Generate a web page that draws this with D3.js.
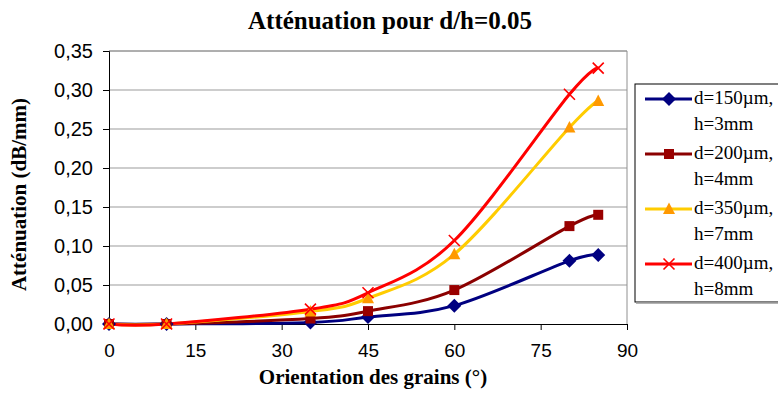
<!DOCTYPE html>
<html>
<head>
<meta charset="utf-8">
<script src="https://cdn.jsdelivr.net/npm/d3@7"></script>
<style>
  html, body { margin: 0; padding: 0; background: #fff; }
  svg { display: block; }
</style>
</head>
<body>
<svg id="chart" width="778" height="394"></svg>
<script>
// Grain orientation (degrees) at which attenuation was measured
const angles = [0, 10, 35, 45, 60, 80, 85];

// Attenuation (dB/mm) per grain size / height pair
const att150 = [0, 0, 0.002, 0.009, 0.0235, 0.081, 0.0885];
const att200 = [0, 0, 0.007, 0.0165, 0.0435, 0.1255, 0.140];
const att350 = [0, 0, 0.016, 0.033, 0.0895, 0.252, 0.286];
const att400 = [0, 0, 0.019, 0.040, 0.107, 0.2945, 0.328];

const seriesNames = [["d=150µm,", "h=3mm"], ["d=200µm,", "h=4mm"], ["d=350µm,", "h=7mm"], ["d=400µm,", "h=8mm"]];
const xTicks = [0, 15, 30, 45, 60, 75, 90];
const yTicks = [0, 0.05, 0.10, 0.15, 0.20, 0.25, 0.30, 0.35];

const series = [
  { name: seriesNames[0], values: att150, line: "#000080", fill: "#000080", marker: "diamond" },
  { name: seriesNames[1], values: att200, line: "#8B0000", fill: "#990000", marker: "square" },
  { name: seriesNames[2], values: att350, line: "#FFCC00", fill: "#FF9900", marker: "triangle" },
  { name: seriesNames[3], values: att400, line: "#FF0000", fill: "#FF0000", marker: "cross" }
];

const svg = d3.select("#chart");
const plotLeft = 109, plotRight = 627, plotTop = 51, plotBottom = 324;

const x = d3.scaleLinear().domain([0, 90]).range([plotLeft, plotRight]);
const y = d3.scaleLinear().domain([0, 0.35]).range([plotBottom, plotTop]);

const sans = "'Liberation Sans', Arial, sans-serif";
const serif = "'Liberation Serif', 'Times New Roman', serif";

// Title
svg.append("text")
  .attr("x", 390).attr("y", 29)
  .attr("text-anchor", "middle")
  .style("font-family", serif).style("font-weight", "bold").style("font-size", "25px")
  .text("Atténuation pour d/h=0.05");

// Horizontal grid lines
svg.append("g").selectAll("line")
  .data(yTicks.filter(d => d > 0))
  .join("line")
  .attr("x1", plotLeft).attr("x2", plotRight)
  .attr("y1", d => y(d)).attr("y2", d => y(d))
  .attr("stroke", "#bdbdbd").attr("stroke-width", 1.5);

// Plot frame (top and right)
svg.append("path")
  .attr("d", `M${plotLeft},${plotTop}H${plotRight}V${plotBottom}`)
  .attr("fill", "none").attr("stroke", "#909090").attr("stroke-width", 1);

// Y axis
const yAxis = d3.axisLeft(y).tickValues(yTicks).tickSize(6).tickPadding(10)
  .tickFormat(d => d3.format(".2f")(d).replace(".", ","));
const gy = svg.append("g").attr("transform", `translate(${plotLeft},0)`).call(yAxis);
gy.select(".domain").attr("stroke", "#000");
gy.selectAll(".tick line").attr("stroke", "#000");
gy.selectAll("text").style("font-family", sans).style("font-size", "20px").attr("fill", "#000");

// X axis
const xAxis = d3.axisBottom(x).tickValues(xTicks).tickSize(6).tickPadding(14).tickFormat(d3.format("d"));
const gx = svg.append("g").attr("transform", `translate(0,${plotBottom})`).call(xAxis);
gx.select(".domain").attr("stroke", "#000");
gx.selectAll(".tick line").attr("stroke", "#000");
gx.selectAll("text").style("font-family", sans).style("font-size", "19px").attr("fill", "#000");

// Axis titles
svg.append("text")
  .attr("x", (plotLeft + plotRight) / 2 + 5).attr("y", 384)
  .attr("text-anchor", "middle")
  .style("font-family", serif).style("font-weight", "bold").style("font-size", "21px")
  .text("Orientation des grains (°)");

svg.append("text")
  .attr("transform", `translate(26,${(plotTop + plotBottom) / 2 + 7}) rotate(-90)`)
  .attr("text-anchor", "middle")
  .style("font-family", serif).style("font-weight", "bold").style("font-size", "21px")
  .text("Atténuation (dB/mm)");

// Marker drawing
function drawMarker(g, type, fill, stroke) {
  if (type === "diamond") {
    g.append("path").attr("d", "M0,-7L7,0L0,7L-7,0Z").attr("fill", fill);
  } else if (type === "square") {
    g.append("rect").attr("x", -5).attr("y", -5).attr("width", 10).attr("height", 10).attr("fill", fill);
  } else if (type === "triangle") {
    g.append("path").attr("d", "M0,-6.5L6,5L-6,5Z").attr("fill", fill);
  } else {
    g.append("path").attr("d", "M-5.5,-5.5L5.5,5.5M-5.5,5.5L5.5,-5.5")
      .attr("stroke", stroke).attr("stroke-width", 1.6).attr("fill", "none");
  }
}

const line = d3.line()
  .x((d, i) => x(angles[i]))
  .y(d => y(d))
  .curve(d3.curveCatmullRom.alpha(0));

const plot = svg.append("g");
series.forEach(s => {
  plot.append("path")
    .attr("d", line(s.values))
    .attr("fill", "none")
    .attr("stroke", s.line)
    .attr("stroke-width", 3);
});
series.forEach(s => {
  s.values.forEach((v, i) => {
    const g = plot.append("g").attr("transform", `translate(${x(angles[i])},${y(v)})`);
    drawMarker(g, s.marker, s.fill, s.line);
  });
});

// Legend
const legend = svg.append("g");
legend.append("rect")
  .attr("x", 635).attr("y", 84).attr("width", 150).attr("height", 218)
  .attr("fill", "#fff").attr("stroke", "#000").attr("stroke-width", 1);
legend.append("line")
  .attr("x1", 636).attr("x2", 778).attr("y1", 303).attr("y2", 303)
  .attr("stroke", "#9a9a9a").attr("stroke-width", 1.5);

series.forEach((s, i) => {
  const cy = 99 + i * 55;
  legend.append("line")
    .attr("x1", 645).attr("x2", 692).attr("y1", cy).attr("y2", cy)
    .attr("stroke", s.line).attr("stroke-width", 3);
  const g = legend.append("g").attr("transform", `translate(669,${cy})`);
  drawMarker(g, s.marker, s.fill, s.line);
  legend.append("text")
    .attr("x", 694).attr("y", cy + 5)
    .style("font-family", serif).style("font-size", "19px")
    .text(s.name[0]);
  legend.append("text")
    .attr("x", 694).attr("y", cy + 31)
    .style("font-family", serif).style("font-size", "19px")
    .text(s.name[1]);
});
</script>
</body>
</html>
